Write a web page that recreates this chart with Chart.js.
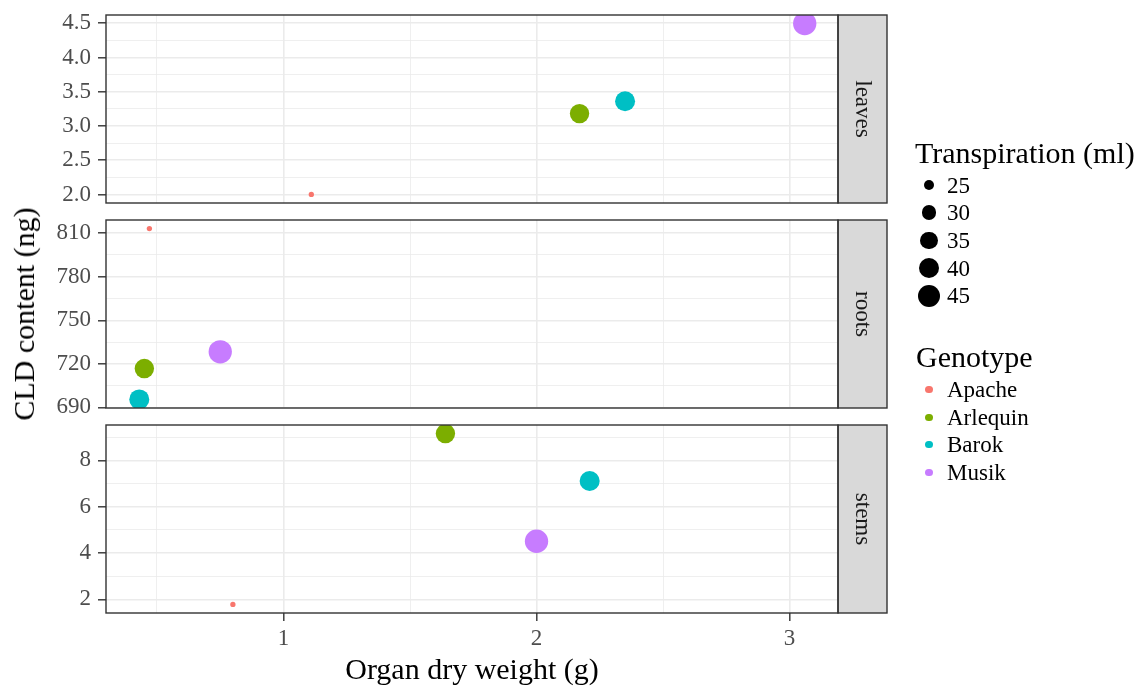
<!DOCTYPE html>
<html>
<head>
<meta charset="utf-8">
<script src="https://cdn.jsdelivr.net/npm/chart.js@4.4.1/dist/chart.umd.min.js"></script>
<style>
  body { margin: 0; background: #fff; }
  #wrap { position: relative; width: 1147px; height: 688px; font-family: "Liberation Serif", serif; overflow: hidden; }
  #wrap canvas { position: absolute; left: 0; top: 0; }
  .txt { position: absolute; white-space: nowrap; color: #000; }
  .dot { position: absolute; border-radius: 50%; }
</style>
</head>
<body>
<div id="wrap">
  <canvas id="leavesChart" width="1147" height="688"></canvas>
  <canvas id="rootsChart" width="1147" height="688"></canvas>
  <canvas id="stemsChart" width="1147" height="688"></canvas>
  <div id="legend"></div>
</div>
<script>
// genotypes, colours (ggplot hue palette) and transpiration (ml) per genotype
const genotypes = ["Apache", "Arlequin", "Barok", "Musik"];
const genoColors = ["#F8766D", "#7CAE00", "#00BFC4", "#C77CFF"];
const transpiration = [22.4, 38.5, 40.0, 48.7];

// organ dry weight (g) and CLD content (ng), same order as genotypes
const leavesWeight = [1.11, 2.17, 2.35, 3.06];
const leavesCLD = [2.00, 3.18, 3.36, 4.495];
const rootsWeight = [0.47, 0.45, 0.43, 0.75];
const rootsCLD = [813.2, 716.8, 695.5, 728.3];
const stemsWeight = [0.80, 1.64, 2.21, 2.00];
const stemsCLD = [1.78, 9.16, 7.11, 4.51];

// tick labels
const xTicks = [1, 2, 3];
const leavesTicks = [2.0, 2.5, 3.0, 3.5, 4.0, 4.5];
const rootsTicks = [690, 720, 750, 780, 810];
const stemsTicks = [2, 4, 6, 8];
const sizeBreaks = [25, 30, 35, 40, 45];

Chart.defaults.font.family = '"Liberation Serif", serif';

var tMin = Math.min.apply(null, transpiration);
var tMax = Math.max.apply(null, transpiration);
// ggplot-like area scale: size 1..6, diameter in px
function diam(t) {
    var f = Math.max(0, Math.min(1, (t - tMin) / (tMax - tMin)));
    var size = 1 + 5 * Math.sqrt(f);
    return 1.7 + 3.6 * size;
}

// 5% expansion like ggplot
function expand(vals) {
    var lo = Math.min.apply(null, vals), hi = Math.max.apply(null, vals);
    var d = (hi - lo) * 0.05;
    return [lo - d, hi + d];
}

// majors plus the minor lines half way between them
function withMinors(majors, lim) {
    var step = majors[1] - majors[0];
    var out = [];
    for (var v = majors[0] - step / 2; v <= majors[majors.length - 1] + step / 2 + 1e-9; v += step / 2) {
        var r = Math.round(v * 1000) / 1000;
        if (r >= lim[0] && r <= lim[1]) out.push(r);
    }
    return out;
}

function isMajor(majors, v) {
    return majors.some(m => Math.abs(m - v) < 1e-6);
}

var xLim = expand(leavesWeight.concat(rootsWeight, stemsWeight));
var stripW = 49;
var xAxisH = 40;
var tickFont = 23;

const panelFrame = {
    id: 'panelFrame',
    afterDraw(chart, args, opts) {
        const ctx = chart.ctx, a = chart.chartArea;
        ctx.save();
        ctx.fillStyle = '#d9d9d9';
        ctx.fillRect(a.right, a.top, stripW, a.bottom - a.top);
        ctx.strokeStyle = '#333333';
        ctx.lineWidth = 1.4;
        ctx.strokeRect(a.left, a.top, a.right - a.left, a.bottom - a.top);
        ctx.strokeRect(a.right, a.top, stripW, a.bottom - a.top);
        ctx.translate(a.right + stripW / 2, (a.top + a.bottom) / 2);
        ctx.rotate(Math.PI / 2);
        ctx.fillStyle = '#1a1a1a';
        ctx.font = tickFont + 'px "Liberation Serif", serif';
        ctx.textAlign = 'center';
        ctx.textBaseline = 'middle';
        ctx.fillText(opts.label, 0, 0);
        ctx.restore();
    }
};

function makePanel(id, label, weights, cld, yMajors, decimals, top, bottom, showX) {
    var yLim = expand(cld);
    var yAll = withMinors(yMajors, yLim);
    var xAll = withMinors(xTicks, xLim);
    var xh = showX ? xAxisH : 0;
    var datasets = genotypes.map((g, i) => ({
        label: g,
        data: [{ x: weights[i], y: cld[i] }],
        backgroundColor: genoColors[i],
        borderWidth: 0,
        pointRadius: diam(transpiration[i]) / 2,
        pointHoverRadius: diam(transpiration[i]) / 2,
        clip: 0
    }));
    return new Chart(document.getElementById(id), {
        type: 'scatter',
        data: { datasets: datasets },
        plugins: [panelFrame],
        options: {
            responsive: false,
            animation: false,
            events: [],
            layout: { padding: { left: 0, right: 1147 - 838, top: top, bottom: 688 - bottom - xh } },
            plugins: {
                legend: { display: false },
                tooltip: { enabled: false },
                panelFrame: { label: label }
            },
            scales: {
                x: {
                    type: 'linear',
                    min: xLim[0],
                    max: xLim[1],
                    afterBuildTicks: s => { s.ticks = xAll.map(v => ({ value: v })); },
                    afterFit: s => { s.height = xh; s.paddingLeft = 0; s.paddingRight = 0; },
                    border: { display: false },
                    grid: {
                        drawTicks: showX,
                        tickLength: 8,
                        color: '#ebebeb',
                        lineWidth: c => isMajor(xTicks, c.tick.value) ? 1.6 : 0.8,
                        tickColor: c => isMajor(xTicks, c.tick.value) ? '#333333' : 'rgba(0,0,0,0)',
                        tickWidth: 1.4
                    },
                    ticks: {
                        display: showX,
                        autoSkip: false,
                        maxRotation: 0,
                        padding: 4,
                        color: '#4d4d4d',
                        font: { size: tickFont },
                        callback: v => isMajor(xTicks, v) ? String(Math.round(v)) : ''
                    }
                },
                y: {
                    type: 'linear',
                    min: yLim[0],
                    max: yLim[1],
                    afterBuildTicks: s => { s.ticks = yAll.map(v => ({ value: v })); },
                    afterFit: s => { s.width = 106; s.paddingTop = 0; s.paddingBottom = 0; },
                    border: { display: false },
                    grid: {
                        tickLength: 8,
                        color: '#ebebeb',
                        lineWidth: c => isMajor(yMajors, c.tick.value) ? 1.6 : 0.8,
                        tickColor: c => isMajor(yMajors, c.tick.value) ? '#333333' : 'rgba(0,0,0,0)',
                        tickWidth: 1.4
                    },
                    ticks: {
                        autoSkip: false,
                        padding: 7,
                        color: '#4d4d4d',
                        font: { size: tickFont },
                        callback: v => isMajor(yMajors, v) ? v.toFixed(decimals) : ''
                    }
                }
            }
        }
    });
}

makePanel('leavesChart', 'leaves', leavesWeight, leavesCLD, leavesTicks, 1, 15, 203, false);
makePanel('rootsChart', 'roots', rootsWeight, rootsCLD, rootsTicks, 0, 220, 408, false);
makePanel('stemsChart', 'stems', stemsWeight, stemsCLD, stemsTicks, 0, 425, 613, true);

// titles and legends as html text
var legend = document.getElementById('legend');
function addText(txt, left, cy, size, extra) {
    var d = document.createElement('div');
    d.className = 'txt';
    d.textContent = txt;
    d.style.fontSize = size + 'px';
    d.style.lineHeight = size + 'px';
    d.style.left = left + 'px';
    d.style.top = (cy - size / 2) + 'px';
    if (extra) Object.assign(d.style, extra);
    legend.appendChild(d);
    return d;
}
function addDot(cx, cy, dm, color) {
    var d = document.createElement('div');
    d.className = 'dot';
    d.style.width = dm + 'px';
    d.style.height = dm + 'px';
    d.style.left = (cx - dm / 2) + 'px';
    d.style.top = (cy - dm / 2) + 'px';
    d.style.background = color;
    legend.appendChild(d);
}

addText('Organ dry weight (g)', 472, 669, 30, { transform: 'translateX(-50%)' });
addText('CLD content (ng)', 24, 314, 30, { transform: 'translate(-50%, 0) rotate(-90deg)', transformOrigin: '50% 50%' });

addText('Transpiration (ml)', 915, 153, 30);
sizeBreaks.forEach((b, i) => {
    var cy = 185 + i * 27.7;
    addDot(929, cy, diam(b), '#000');
    addText(String(b), 947, cy, tickFont);
});

addText('Genotype', 916, 357, 30);
genotypes.forEach((g, i) => {
    var cy = 389.3 + i * 27.8;
    addDot(929, cy, 7.1, genoColors[i]);
    addText(g, 947, cy, tickFont);
});
</script>
</body>
</html>
